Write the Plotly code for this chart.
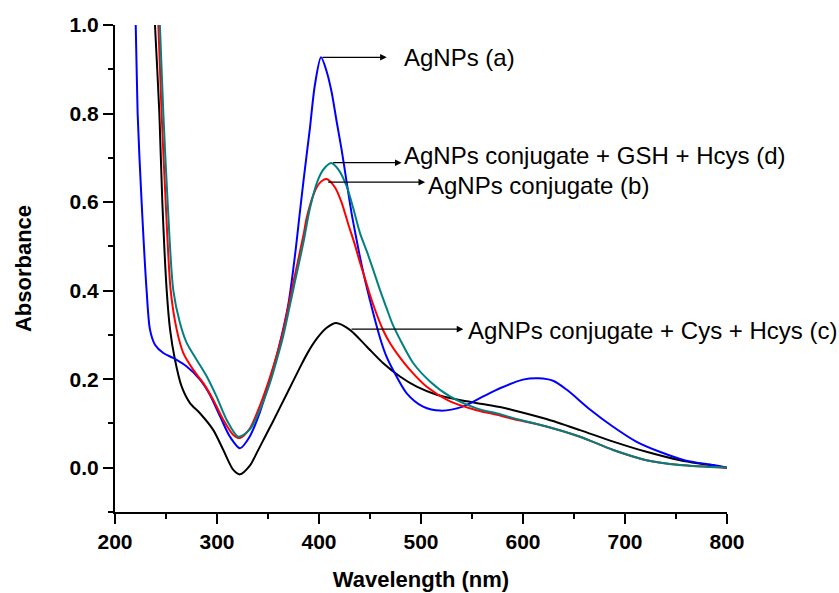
import plotly.graph_objects as go

# UV-Vis absorption spectra (wavelength in nm, absorbance in a.u.)
wl_a = [218, 220.3, 222.2, 226.1, 231, 234.3, 239.2, 247.4, 257, 270, 283.3, 293, 303, 312.7,
        322.5, 332, 342, 352, 360, 370, 377, 381, 385, 391, 396, 402, 407.5, 412.4, 417.3,
        422.2, 427.1, 432, 436, 440, 445, 450, 455, 460, 466, 473, 486, 502, 519, 541, 561, 578,
        600, 615, 630, 643, 666, 688, 711, 734, 760, 787, 800]
abs_a = [1.12, 1.0, 0.8, 0.6, 0.4, 0.312, 0.278, 0.259, 0.248, 0.229, 0.199, 0.165, 0.116, 0.07,
         0.044, 0.07, 0.125, 0.2, 0.266, 0.37, 0.49, 0.572, 0.652, 0.765, 0.865, 0.927, 0.895,
         0.848, 0.782, 0.718, 0.645, 0.574, 0.525, 0.478, 0.425, 0.378, 0.333, 0.292, 0.252,
         0.219, 0.168, 0.138, 0.129, 0.138, 0.161, 0.18, 0.199, 0.202, 0.196, 0.176, 0.131, 0.093,
         0.059, 0.036, 0.016, 0.006, 0.0]

wl_b = [238, 242.5, 245.7, 249.7, 254.6, 260.5, 267, 276.8, 286.6, 296.4, 306.2, 316, 322.5, 332,
        342, 352, 360, 365, 375, 385, 388, 396, 401, 407.5, 415.7, 422.2, 428.7, 435, 440, 445,
        450, 456, 463, 470, 476.2, 489.2, 505.6, 528.4, 554.6, 577.5, 590.5, 623, 655.9, 688.5,
        721, 754, 800]
abs_b = [1.2, 1.0, 0.8, 0.6, 0.4, 0.312, 0.259, 0.221, 0.191, 0.153, 0.108, 0.074, 0.067, 0.088,
         0.14, 0.205, 0.266, 0.31, 0.42, 0.528, 0.565, 0.625, 0.644, 0.652, 0.633, 0.599, 0.55,
         0.505, 0.465, 0.428, 0.39, 0.35, 0.31, 0.28, 0.259, 0.221, 0.183, 0.15, 0.13, 0.118,
         0.11, 0.093, 0.07, 0.04, 0.017, 0.006, 0.0]

wl_c = [235, 239.2, 243.5, 246.4, 250.7, 254, 258.8, 265.4, 273.5, 283.3, 296.4, 306.2, 316,
        322.5, 332, 340, 348, 355, 368, 381, 389, 398, 407.5, 416.7, 430, 446.7, 463, 479.4,
        495.8, 515.4, 544.8, 560, 577.5, 590.5, 623, 655.9, 688.5, 721, 754, 800]
abs_c = [1.2, 1.0, 0.8, 0.6, 0.4, 0.312, 0.244, 0.183, 0.146, 0.123, 0.085, 0.04, -0.005,
         -0.015, 0.004, 0.038, 0.074, 0.105, 0.165, 0.225, 0.26, 0.292, 0.316, 0.327, 0.312,
         0.274, 0.236, 0.206, 0.183, 0.165, 0.15, 0.144, 0.137, 0.13, 0.11, 0.085, 0.059, 0.036,
         0.017, 0.0]

wl_d = [240, 244, 247.4, 251.6, 257.2, 263.7, 270.3, 280, 290, 299.7, 309.5, 321, 332, 342, 352,
        360, 365, 375, 385, 391, 399.3, 405.9, 412.4, 418.9, 427.1, 433.6, 440.2, 447, 453, 460,
        466, 472, 479.4, 492.5, 508.8, 528.4, 554.6, 577.5, 590.5, 623, 655.9, 688.5, 721, 754,
        800]
abs_d = [1.2, 1.0, 0.8, 0.6, 0.4, 0.327, 0.282, 0.244, 0.206, 0.16, 0.108, 0.07, 0.086, 0.13,
         0.192, 0.255, 0.298, 0.405, 0.512, 0.585, 0.652, 0.678, 0.688, 0.674, 0.636, 0.586, 0.53,
         0.488, 0.448, 0.4, 0.362, 0.325, 0.29, 0.236, 0.195, 0.161, 0.134, 0.121, 0.112, 0.093,
         0.07, 0.04, 0.017, 0.006, 0.0]

labels = ["AgNPs (a)", "AgNPs conjugate (b)", "AgNPs conjugate + Cys + Hcys (c)",
          "AgNPs conjugate + GSH + Hcys (d)"]
colors = ["#0000FF", "#FF0000", "#000000", "#008080"]

x_ticks = [200, 300, 400, 500, 600, 700, 800]
y_ticks = [0.0, 0.2, 0.4, 0.6, 0.8, 1.0]
y_ticktext = ["0.0", "0.2", "0.4", "0.6", "0.8", "1.0"]

series = [(wl_c, abs_c, labels[2], colors[2]),
          (wl_a, abs_a, labels[0], colors[0]),
          (wl_b, abs_b, labels[1], colors[1]),
          (wl_d, abs_d, labels[3], colors[3])]

fig = go.Figure()
for wl, ab, name, col in series:
    fig.add_trace(go.Scatter(x=wl, y=ab, mode="lines", name=name,
                             line=dict(color=col, width=2, shape="spline", smoothing=0.8)))

# Callout arrows: tail at the band maximum, head next to the label
callouts = [
    # tail_x, tail_y, head_x, head_y, text_x, text_y, label
    (402.0, 0.927, 466.4, 0.927, 481.0, 0.927, labels[0]),
    (412.4, 0.689, 481.0, 0.689, 481.0, 0.705, labels[3]),
    (407.5, 0.645, 504.0, 0.645, 505.0, 0.638, labels[1]),
    (430.4, 0.313, 541.5, 0.313, 544.0, 0.310, labels[2]),
]
annots = []
for tx, ty, hx, hy, lx, ly, lab in callouts:
    annots.append(dict(x=hx, y=hy, ax=tx, ay=ty, xref="x", yref="y", axref="x", ayref="y",
                       text="", showarrow=True, arrowhead=2, arrowsize=1.1, arrowwidth=1.2,
                       arrowcolor="black", standoff=0, startstandoff=0))
    annots.append(dict(x=lx, y=ly, xref="x", yref="y", text=lab, showarrow=False,
                       xanchor="left", yanchor="middle",
                       font=dict(family="Liberation Sans, Arial, sans-serif", size=24,
                                 color="black")))

tick_font = dict(family="Liberation Sans, Arial, sans-serif", size=21, color="black",
                 weight="bold")
title_font = dict(family="Liberation Sans, Arial, sans-serif", size=22, color="black",
                  weight="bold")

fig.update_layout(
    width=839, height=593,
    margin=dict(l=115, r=112, t=25, b=81),
    paper_bgcolor="white", plot_bgcolor="white",
    showlegend=False,
    annotations=annots,
    xaxis=dict(range=[200, 800], tickvals=x_ticks, ticks="outside", ticklen=10, tickwidth=2,
               tickcolor="black", showline=True, linewidth=2, linecolor="black",
               showgrid=False, zeroline=False, tickfont=tick_font, automargin=False,
               minor=dict(dtick=50, ticks="outside", ticklen=5, tickwidth=2, tickcolor="black",
                          showgrid=False),
               title=dict(text="Wavelength (nm)", font=title_font, standoff=19)),
    yaxis=dict(range=[-0.1, 1.0], tickvals=y_ticks, ticktext=y_ticktext, ticks="outside",
               ticklen=10, tickwidth=2, tickcolor="black", showline=True, linewidth=2,
               linecolor="black", showgrid=False, zeroline=False, tickfont=tick_font,
               automargin=False,
               minor=dict(dtick=0.1, ticks="outside", ticklen=5, tickwidth=2,
                          tickcolor="black", showgrid=False),
               title=dict(text="Absorbance", font=title_font, standoff=32)),
)

fig.write_html("out.html")
